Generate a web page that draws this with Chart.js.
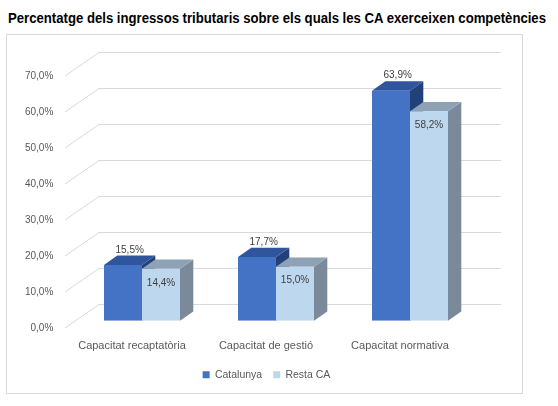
<!DOCTYPE html>
<html>
<head>
<meta charset="utf-8">
<script src="https://cdn.jsdelivr.net/npm/chart.js@4.4.1/dist/chart.umd.min.js"></script>
<style>
  html, body { margin: 0; padding: 0; background: #fff; }
  #wrap { position: relative; width: 558px; height: 406px; overflow: hidden; }
  #title {
    position: absolute; left: 8px; top: 9px;
    font: bold 14px "Liberation Sans", Arial, sans-serif;
    line-height: 18px; white-space: nowrap; color: #000;
    transform-origin: 0 0;
  }
  #box { position: absolute; left: 6px; top: 34px; width: 515px; height: 358px; border: 1px solid #D9D9D9; }
  #chart { position: absolute; left: 0; top: 0; }
</style>
</head>
<body>
<div id="wrap">
  <div id="title">Percentatge dels ingressos tributaris sobre els quals les CA exerceixen competències</div>
  <div id="box"></div>
  <canvas id="chart" width="558" height="406"></canvas>
</div>
<script>
const categories = ['Capacitat recaptatòria', 'Capacitat de gestió', 'Capacitat normativa'];
const catalunya = [15.5, 17.7, 63.9];
const restaCA = [14.4, 15.0, 58.2];
const yTicks = [0, 10, 20, 30, 40, 50, 60, 70];

// fake 3d offsets (pixels), relative to the plane the bar fronts sit in
const FRONT = { dx: -10, dy: 7.3 };
const BACK = { dx: 24, dy: -16.7 };
const BAR = { dx: 13.3, dy: -9.3 };

const title = document.getElementById('title');
title.style.transform = `scaleX(${538 / title.getBoundingClientRect().width})`;

const fmt = v => v.toFixed(1).replace('.', ',') + '%';

function poly(ctx, pts, color) {
  ctx.fillStyle = color;
  ctx.beginPath();
  ctx.moveTo(pts[0][0], pts[0][1]);
  pts.slice(1).forEach(p => ctx.lineTo(p[0], p[1]));
  ctx.closePath();
  ctx.fill();
}

const depthPlugin = {
  id: 'depth',
  beforeDatasetsDraw(chart) {
    const { ctx, chartArea: a, scales: { y } } = chart;
    ctx.save();
    ctx.strokeStyle = '#D9D9D9';
    ctx.lineWidth = 1;
    yTicks.forEach(v => {
      const py = y.getPixelForValue(v);
      ctx.beginPath();
      ctx.moveTo(a.left + FRONT.dx, py + FRONT.dy);
      ctx.lineTo(a.left + BACK.dx, Math.round(py + BACK.dy) + 0.5);
      ctx.lineTo(a.right + BACK.dx, Math.round(py + BACK.dy) + 0.5);
      ctx.stroke();
    });
    chart.data.datasets.forEach((ds, i) => {
      chart.getDatasetMeta(i).data.forEach(bar => {
        const { x, y: top, base, width } = bar.getProps(['x', 'y', 'base', 'width'], true);
        const l = x - width / 2, r = x + width / 2;
        poly(ctx, [[r, top], [r + BAR.dx, top + BAR.dy], [r + BAR.dx, base + BAR.dy], [r, base]], ds.sideColor);
        poly(ctx, [[l, top], [r, top], [r + BAR.dx, top + BAR.dy], [l + BAR.dx, top + BAR.dy]], ds.topColor);
      });
    });
    ctx.restore();
  },
  afterDatasetsDraw(chart) {
    const { ctx } = chart;
    ctx.save();
    ctx.font = '10px "Liberation Sans", Arial, sans-serif';
    ctx.fillStyle = '#404040';
    ctx.textAlign = 'center';
    ctx.textBaseline = 'middle';
    chart.data.datasets.forEach((ds, i) => {
      chart.getDatasetMeta(i).data.forEach((bar, j) => {
        const { x, y: top } = bar.getProps(['x', 'y'], true);
        if (i === 0) ctx.fillText(fmt(ds.data[j]), x + BAR.dx / 2, top - 15);
        else ctx.fillText(fmt(ds.data[j]), x, top + 14);
      });
    });
    ctx.restore();
  }
};

new Chart(document.getElementById('chart'), {
  type: 'bar',
  data: {
    labels: categories,
    datasets: [
      {
        label: 'Catalunya',
        data: catalunya,
        backgroundColor: '#4472C4',
        topColor: '#2F559C',
        sideColor: '#22407A'
      },
      {
        label: 'Resta CA',
        data: restaCA,
        backgroundColor: '#BDD7EE',
        topColor: '#8FA1B5',
        sideColor: '#7B8A9A'
      }
    ]
  },
  options: {
    responsive: false,
    animation: false,
    categoryPercentage: 0.567,
    barPercentage: 1,
    borderWidth: 0,
    layout: { padding: { left: 15, right: 40, top: 68.7, bottom: 16 } },
    scales: {
      x: {
        grid: { display: false, drawTicks: false },
        border: { display: false },
        ticks: {
          padding: 19,
          labelOffset: -10,
          color: '#595959',
          font: { family: '"Liberation Sans", Arial, sans-serif', size: 11 }
        },
        afterFit(scale) { scale.height = 37.8; }
      },
      y: {
        min: 0,
        max: 70,
        grid: { display: false, drawTicks: false },
        border: { display: false },
        ticks: {
          stepSize: 10,
          padding: 21.7,
          labelOffset: 7.5,
          color: '#595959',
          font: { family: '"Liberation Sans", Arial, sans-serif', size: 10 },
          callback: v => fmt(v)
        },
        afterFit(scale) { scale.width = 60; }
      },
      // empty right-hand axis, only to keep the plot area where the reference has it
      yRight: {
        type: 'linear',
        position: 'right',
        grid: { display: false, drawTicks: false },
        border: { display: false },
        ticks: { display: false },
        afterFit(scale) { scale.width = 41; }
      }
    },
    plugins: {
      legend: {
        position: 'bottom',
        labels: {
          boxWidth: 7,
          boxHeight: 7,
          padding: 11,
          color: '#595959',
          font: { family: '"Liberation Sans", Arial, sans-serif', size: 10.5 }
        }
      },
      tooltip: { enabled: false }
    }
  },
  plugins: [depthPlugin]
});
</script>
</body>
</html>
